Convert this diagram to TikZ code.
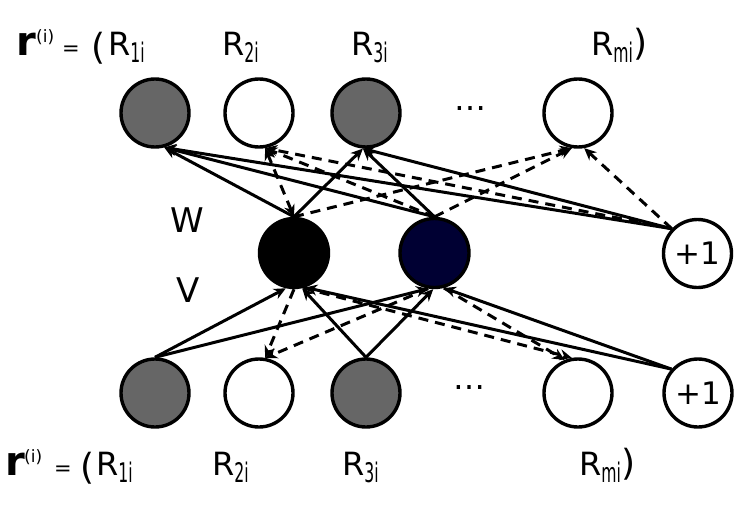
\documentclass[tikz,border=0pt]{standalone}
\usepackage{fontspec}
\setmainfont{DejaVu Sans}
\usepackage{graphicx}
\usetikzlibrary{arrows.meta}
\definecolor{obsgray}{HTML}{666666}
\definecolor{hidnavy}{HTML}{000033}
\newcommand\Rlab[1]{{\fontsize{32}{32}\selectfont R}\raisebox{-7pt}{\scalebox{0.58}[1]{\fontsize{27}{27}\selectfont #1}}}
\newcommand\rvec{{\fontsize{40}{40}\selectfont\bfseries r}}
\tikzset{
  unit/.style={circle, draw=black, line width=3.4pt, minimum size=68pt, inner sep=0pt, fill=white},
  hid/.style={circle, draw=black, line width=3.4pt, minimum size=69pt, inner sep=0pt},
  conn/.style={line width=3pt, -{Stealth[length=12pt,width=11pt]}},
  dconn/.style={conn, dash pattern=on 10pt off 7pt},
  lab/.style={anchor=base west, inner sep=0pt},
  bias/.style={unit, font=\fontsize{31}{31}\selectfont},
  dots/.style={anchor=base, inner sep=0pt, font=\fontsize{32}{32}\selectfont}
}
\begin{document}
\begin{tikzpicture}[x=1pt,y=-1pt]
\useasboundingbox (0,0) rectangle (752,506);
% top row
\node[unit,fill=obsgray] (T1) at (155,113) {};
\node[unit] (T2) at (259,113) {};
\node[unit,fill=obsgray] (T3) at (366,113) {};
\node[dots] (Td) at (470,110) {…};
\node[unit] (Tm) at (578,113) {};
% hidden
\node[hid,fill=black] (H1) at (294,253) {};
\node[hid,fill=hidnavy] (H2) at (434.5,253) {};
\node[bias] (P1) at (697.5,253.5) {+1};
% bottom row
\node[unit,fill=obsgray] (B1) at (155,393) {};
\node[unit] (B2) at (259,393) {};
\node[unit,fill=obsgray] (B3) at (366,393) {};
\node[dots] (Bd) at (469,389) {…};
\node[unit] (Bm) at (578,393) {};
\node[bias] (P2) at (698,393) {+1};
% W V labels
\node[font=\fontsize{34}{34}\selectfont, inner sep=0pt] (W) at (187,220) {W};
\node[font=\fontsize{34}{34}\selectfont, inner sep=0pt] (V) at (188,290) {V};
% top labels
\node[lab] (rt) at (16,55) {\rvec};
\node[lab] (st) at (36,42) {\fontsize{17}{17}\selectfont (i)};
\node[lab] (et) at (62,55) {\fontsize{21}{21}\selectfont =};
\node[lab] (pt) at (91,59) {\fontsize{36}{36}\selectfont (};
\node[lab] (R1t) at (108,55) {\Rlab{1i}};
\node[lab] (R2t) at (222,55) {\Rlab{2i}};
\node[lab] (R3t) at (351,55) {\Rlab{3i}};
\node[lab] (Rmt) at (591,55) {\Rlab{mi}\fontsize{36}{36}\selectfont )};
% bottom labels
\node[lab] (rb) at (5,475) {\rvec};
\node[lab] (sb) at (24,462) {\fontsize{17}{17}\selectfont (i)};
\node[lab] (eb) at (54,475) {\fontsize{21}{21}\selectfont =};
\node[lab] (pb) at (80,479) {\fontsize{36}{36}\selectfont (};
\node[lab] (R1b) at (96,475) {\Rlab{1i}};
\node[lab] (R2b) at (212,475) {\Rlab{2i}};
\node[lab] (R3b) at (342,475) {\Rlab{3i}};
\node[lab] (Rmb) at (579,475) {\Rlab{mi}\fontsize{36}{36}\selectfont )};
% top connections (W)
\draw[conn] (H1.north) -- (T1.-75);
\draw[conn] (H2.north) -- (T1.-75);
\draw[conn] (P1.136) -- (T1.-75);
\draw[conn] (H1.north) -- (T3.-95);
\draw[conn] (H2.north) -- (T3.-95);
\draw[conn] (P1.136) -- (T3.-95);
\draw[dconn,{Stealth[length=12pt,width=11pt]}-{Stealth[length=12pt,width=11pt]}] (H1.north) -- (T2.-80);
\draw[dconn] (H2.north) -- (T2.-80);
\draw[dconn] (P1.136) -- (T2.-80);
\draw[dconn] (H1.north) -- (Tm.-100);
\draw[dconn] (H2.north) -- (Tm.-100);
\draw[dconn] (P1.136) -- (Tm.-80);
% bottom connections (V)
\draw[conn] (B1.north) -- (H1.-103);
\draw[conn] (B1.north) -- (H2.-100);
\draw[conn] (B3.north) -- (H1.-77);
\draw[conn] (B3.north) -- (H2.-92);
\draw[conn] (P2.138) -- (H1.-72);
\draw[conn] (P2.138) -- (H2.-75);
\draw[dconn] (H1.south) -- (B2.80);
\draw[dconn] (H2.-100) -- (B2.80);
\draw[dconn] (H1.-75) -- (Bm.100);
\draw[dconn] (H2.-75) -- (Bm.112);
\end{tikzpicture}
\end{document}
